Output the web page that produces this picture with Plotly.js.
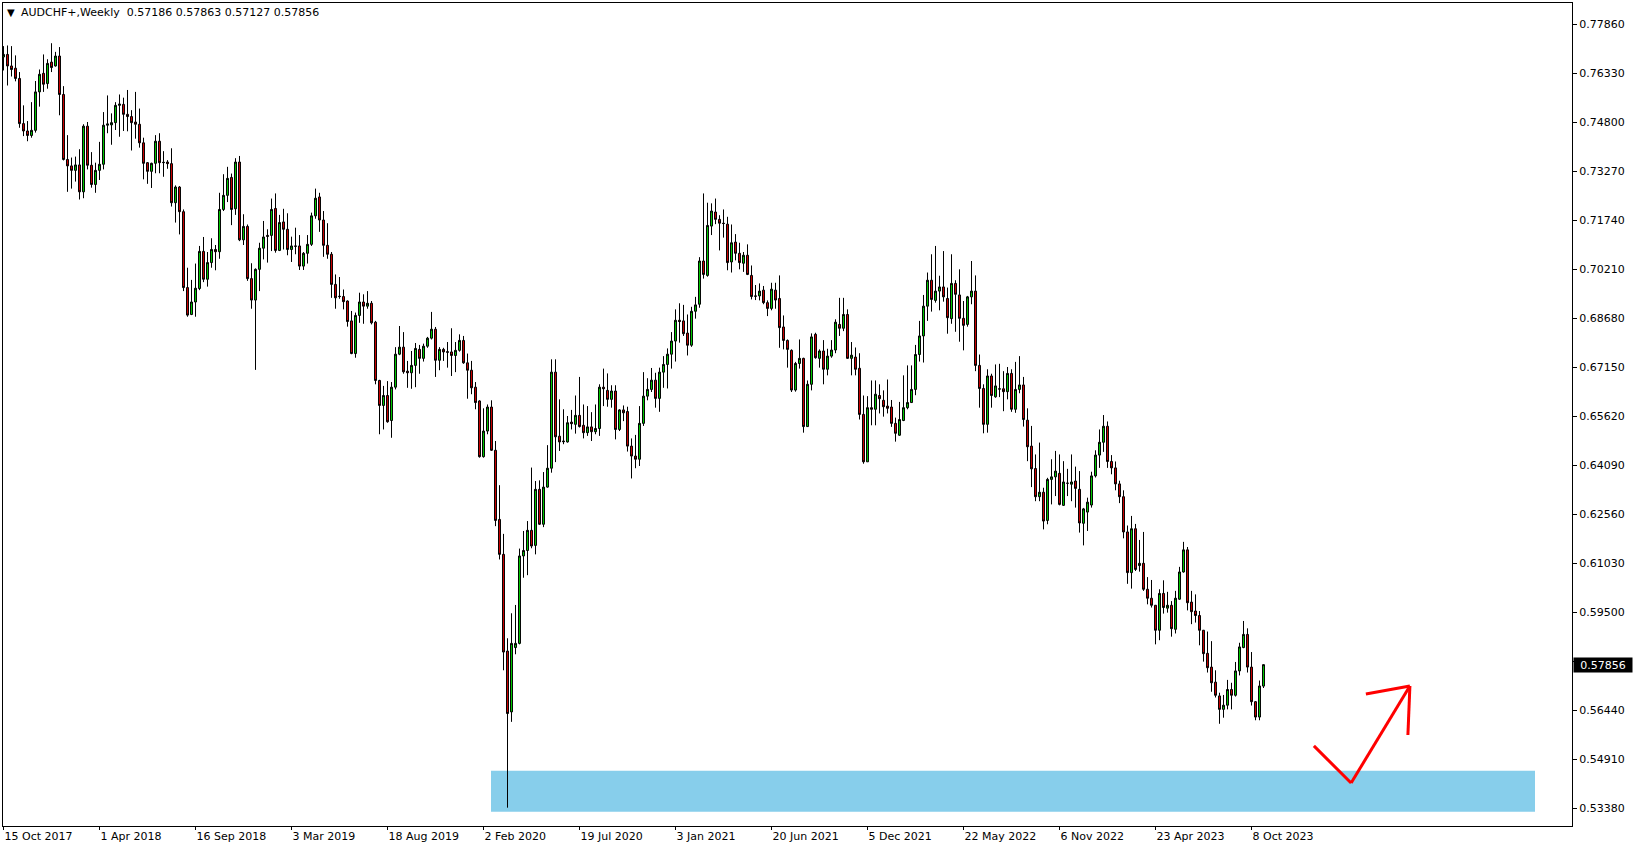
<!DOCTYPE html>
<html><head><meta charset="utf-8">
<script src="https://cdn.plot.ly/plotly-3.0.1.min.js"></script>
<style>html,body{margin:0;padding:0;background:#fff;overflow:hidden}#chart{width:1635px;height:850px}</style>
</head><body><div id="chart"></div>
<script>
const symbolTitle = 'AUDCHF+,Weekly';
const firstBar = '2017-10-15';

const opens = [
.7683,.7691,.7655,.7648,.7616,.7475,.7452,.7438,.7454,.7574,
.7632,.7600,.7667,.7655,.7686,.7566,.7363,.7343,.7329,.7346,
.7262,.7467,.7345,.7285,.7329,.7348,.7470,.7471,.7478,.7532,
.7535,.7504,.7497,.7480,.7473,.7415,.7353,.7326,.7351,.7420,
.7353,.7355,.7350,.7228,.7277,.7200,.6963,.6879,.6918,.6960,
.7076,.6989,.7041,.7082,.7075,.7207,.7251,.7307,.7209,.7355,
.7112,.7154,.6991,.6924,.7020,.7086,.7126,.7126,.7210,.7079,
.7168,.7145,.7082,.7093,.7093,.7030,.7070,.7098,.7187,.7246,
.7174,.7095,.7067,.6973,.6936,.6935,.6921,.6859,.6757,.6876,
.6918,.6905,.6914,.6855,.6673,.6595,.6626,.6548,.6652,.6755,
.6777,.6702,.6697,.6720,.6770,.6742,.6780,.6805,.6833,.6736,
.6770,.6763,.6762,.6751,.6767,.6798,.6728,.6705,.6652,.6609,
.6435,.6515,.6590,.6455,.6239,.6130,.5828,.5638,.5839,.5852,
.6125,.6142,.6205,.6158,.6333,.6224,.6340,.6399,.6699,.6499,
.6484,.6481,.6543,.6536,.6564,.6533,.6510,.6528,.6513,.6523,
.6652,.6642,.6614,.6640,.6520,.6581,.6576,.6468,.6437,.6427,
.6539,.6624,.6645,.6674,.6617,.6699,.6723,.6755,.6796,.6861,
.6859,.6821,.6783,.6889,.6911,.7046,.7001,.7155,.7199,.7176,
.7164,.7161,.7043,.7105,.7070,.7039,.7064,.7001,.6937,.6937,
.6955,.6916,.6898,.6955,.6929,.6840,.6798,.6767,.6643,.6726,
.6742,.6529,.6661,.6817,.6742,.6765,.6708,.6749,.6768,.6848,
.6836,.6879,.6742,.6746,.6711,.6567,.6419,.6588,.6583,.6626,
.6611,.6593,.6590,.6539,.6502,.6548,.6588,.6604,.6645,.6754,
.6812,.6905,.6986,.6923,.6952,.6965,.6929,.6866,.6976,.6940,
.6867,.6848,.6934,.6952,.6720,.6648,.6536,.6687,.6622,.6647,
.6647,.6638,.6695,.6583,.6645,.6659,.6549,.6468,.6398,.6310,
.6324,.6236,.6364,.6372,.6383,.6283,.6352,.6349,.6359,.6333,
.6227,.6262,.6284,.6375,.6440,.6480,.6530,.6420,.6400,.6350,
.6310,.6200,.6073,.6210,.6095,.6102,.6021,.5993,.5971,.5893,
.6008,.5962,.5971,.5896,.5990,.6075,.6144,.5981,.5953,.5939,
.5893,.5821,.5778,.5731,.5688,.5646,.5659,.5708,.5690,.5766,
.5839,.5880,.5778,.5670,.5622,.57186];

const highs = [
.7717,.7719,.7717,.7688,.7636,.7532,.7483,.7542,.7608,.7644,
.7691,.7676,.7726,.7699,.7714,.7592,.7439,.7369,.7372,.7395,
.7473,.7480,.7386,.7353,.7418,.7511,.7563,.7507,.7542,.7566,
.7556,.7580,.7517,.7574,.7522,.7431,.7355,.7353,.7439,.7445,
.7389,.7361,.7398,.7282,.7280,.7207,.7025,.6987,.7038,.7093,
.7121,.7074,.7117,.7096,.7259,.7317,.7340,.7319,.7367,.7374,
.7192,.7160,.7039,.7023,.7103,.7171,.7145,.7241,.7257,.7190,
.7209,.7195,.7122,.7150,.7127,.7074,.7127,.7197,.7272,.7259,
.7202,.7164,.7074,.7004,.6996,.6957,.6923,.6890,.6885,.6947,
.6942,.6952,.6921,.6859,.6675,.6656,.6671,.6668,.6777,.6843,
.6824,.6734,.6765,.6790,.6784,.6788,.6809,.6887,.6840,.6777,
.6775,.6793,.6836,.6793,.6817,.6812,.6757,.6734,.6668,.6611,
.6586,.6598,.6611,.6484,.6346,.6194,.5868,.5946,.5972,.6148,
.6203,.6234,.6401,.6359,.6361,.6387,.6471,.6739,.6739,.6614,
.6583,.6562,.6581,.6626,.6684,.6598,.6593,.6574,.6598,.6661,
.6710,.6695,.6658,.6658,.6583,.6595,.6591,.6492,.6503,.6593,
.6699,.6680,.6712,.6697,.6713,.6749,.6773,.6824,.6895,.6914,
.6909,.6879,.6903,.6934,.7058,.7257,.7228,.7226,.7241,.7189,
.7207,.7184,.7160,.7130,.7103,.7074,.7098,.7032,.6971,.6976,
.6968,.6923,.6978,.6978,.7001,.6876,.6801,.6770,.6731,.6801,
.6744,.6673,.6820,.6822,.6770,.6799,.6772,.6799,.6864,.6931,
.6931,.6895,.6793,.6776,.6758,.6626,.6624,.6673,.6673,.6661,
.6642,.6676,.6612,.6557,.6606,.6689,.6720,.6720,.6784,.6859,
.6940,.7010,.7067,.7093,.7000,.7077,.6963,.7067,.6986,.7020,
.6921,.6937,.7046,.7001,.6754,.6661,.6708,.6694,.6723,.6725,
.6702,.6715,.6708,.6731,.6749,.6684,.6586,.6531,.6442,.6479,
.6338,.6369,.6427,.6453,.6442,.6421,.6397,.6442,.6404,.6390,
.6275,.6307,.6388,.6455,.6520,.6565,.6545,.6440,.6420,.6360,
.6330,.6220,.6250,.6225,.6175,.6200,.6059,.6050,.5972,.6021,
.6049,.6013,.5984,.6016,.6091,.6169,.6153,.6016,.6005,.5953,
.5894,.5889,.5859,.5768,.5698,.5691,.5738,.5729,.5794,.5854,
.5922,.5899,.5825,.5672,.5736,.57863];

const lows = [
.7641,.7594,.7622,.7607,.7462,.7436,.7420,.7431,.7447,.7528,
.7574,.7584,.7636,.7653,.7501,.7360,.7262,.7272,.7294,.7238,
.7242,.7332,.7275,.7259,.7299,.7332,.7445,.7409,.7455,.7434,
.7452,.7451,.7391,.7428,.7400,.7301,.7287,.7274,.7320,.7320,
.7309,.7334,.7216,.7166,.7129,.6952,.6872,.6877,.6872,.6955,
.6980,.6966,.7025,.7017,.7053,.7202,.7230,.7158,.7190,.7108,
.7096,.6984,.6897,.6706,.6952,.7051,.7041,.7077,.7072,.7077,
.7082,.7064,.7043,.7067,.7018,.7018,.7038,.7093,.7178,.7137,
.7059,.7053,.6931,.6897,.6928,.6895,.6841,.6755,.6744,.6853,
.6850,.6897,.6848,.6661,.6505,.6520,.6541,.6494,.6645,.6752,
.6694,.6650,.6647,.6652,.6694,.6732,.6775,.6801,.6684,.6705,
.6734,.6713,.6687,.6699,.6763,.6725,.6616,.6630,.6583,.6432,
.6432,.6505,.6453,.6218,.6114,.5768,.5339,.5607,.5818,.5849,
.6057,.6065,.6149,.6130,.6222,.6215,.6338,.6385,.6418,.6453,
.6474,.6479,.6520,.6507,.6526,.6492,.6500,.6484,.6505,.6500,
.6593,.6591,.6588,.6489,.6515,.6546,.6451,.6367,.6399,.6406,
.6531,.6611,.6637,.6588,.6575,.6650,.6648,.6710,.6732,.6791,
.6812,.6751,.6778,.6866,.6900,.6991,.6997,.7127,.7161,.7079,
.7119,.7017,.7010,.7048,.7020,.7012,.7002,.6926,.6924,.6923,
.6911,.6874,.6892,.6897,.6775,.6770,.6713,.6637,.6638,.6710,
.6510,.6528,.6642,.6741,.6713,.6661,.6689,.6744,.6758,.6812,
.6827,.6741,.6689,.6689,.6551,.6413,.6419,.6533,.6533,.6570,
.6560,.6570,.6528,.6482,.6500,.6546,.6583,.6604,.6627,.6732,
.6729,.6859,.6888,.6916,.6892,.6919,.6819,.6850,.6825,.6794,
.6767,.6841,.6911,.6702,.6588,.6508,.6510,.6588,.6619,.6621,
.6577,.6614,.6575,.6572,.6633,.6529,.6421,.6340,.6296,.6296,
.6208,.6224,.6286,.6312,.6283,.6281,.6312,.6296,.6276,.6198,
.6158,.6203,.6276,.6370,.6400,.6450,.6400,.6380,.6330,.6290,
.6180,.6038,.6023,.6078,.6076,.6016,.5974,.5964,.5849,.5862,
.5945,.5948,.5873,.5883,.5988,.6073,.5955,.5912,.5917,.5846,
.5795,.5761,.5701,.5683,.5601,.5620,.5646,.5646,.5686,.5752,
.5837,.5761,.5658,.5612,.5612,.57127];

const closes = [
.7691,.7655,.7644,.7616,.7475,.7452,.7438,.7454,.7574,.7629,
.7598,.7663,.7650,.7686,.7566,.7363,.7343,.7329,.7346,.7262,
.7467,.7345,.7285,.7329,.7348,.7470,.7474,.7478,.7532,.7536,
.7504,.7497,.7478,.7473,.7415,.7351,.7326,.7351,.7420,.7353,
.7354,.7350,.7228,.7277,.7200,.6963,.6877,.6918,.6961,.7076,
.6989,.7041,.7082,.7075,.7207,.7251,.7304,.7207,.7355,.7112,
.7154,.6991,.6924,.7020,.7086,.7121,.7123,.7207,.7079,.7166,
.7145,.7082,.7093,.7092,.7030,.7070,.7098,.7187,.7242,.7174,
.7095,.7067,.6973,.6931,.6935,.6919,.6857,.6757,.6876,.6918,
.6905,.6914,.6853,.6673,.6595,.6626,.6544,.6652,.6755,.6777,
.6700,.6697,.6720,.6773,.6742,.6780,.6805,.6833,.6736,.6770,
.6762,.6761,.6751,.6767,.6798,.6728,.6705,.6650,.6604,.6435,
.6515,.6590,.6455,.6236,.6130,.5825,.5633,.5852,.5852,.6125,
.6142,.6205,.6156,.6333,.6224,.6340,.6399,.6699,.6497,.6481,
.6482,.6541,.6538,.6564,.6529,.6510,.6528,.6513,.6523,.6652,
.6647,.6614,.6640,.6520,.6581,.6572,.6468,.6437,.6427,.6539,
.6624,.6645,.6674,.6617,.6699,.6723,.6755,.6796,.6861,.6857,
.6819,.6783,.6889,.6909,.7046,.7004,.7157,.7202,.7176,.7164,
.7163,.7041,.7103,.7070,.7041,.7064,.7004,.6935,.6936,.6952,
.6916,.6898,.6958,.6924,.6838,.6798,.6770,.6643,.6726,.6742,
.6529,.6661,.6809,.6744,.6765,.6708,.6749,.6768,.6855,.6836,
.6879,.6742,.6752,.6708,.6567,.6419,.6588,.6583,.6630,.6616,
.6591,.6586,.6539,.6508,.6551,.6588,.6604,.6645,.6754,.6812,
.6905,.6986,.6926,.6952,.6965,.6934,.6869,.6976,.6942,.6867,
.6845,.6934,.6952,.6720,.6648,.6536,.6687,.6626,.6656,.6646,
.6638,.6695,.6583,.6645,.6659,.6551,.6466,.6397,.6310,.6324,
.6234,.6364,.6372,.6390,.6286,.6356,.6352,.6356,.6336,.6228,
.6272,.6293,.6375,.6440,.6480,.6530,.6420,.6400,.6350,.6310,
.6200,.6073,.6210,.6083,.6102,.6021,.5993,.5971,.5893,.6008,
.5964,.5971,.5898,.5993,.6075,.6144,.5979,.5951,.5939,.5893,
.5820,.5776,.5729,.5690,.5646,.5659,.5708,.5690,.5766,.5841,
.5880,.5778,.5670,.5622,.5719,.57856];

const xTickDates = ['2017-10-15','2018-04-01','2018-09-16','2019-03-03','2019-08-18','2020-02-02','2020-07-19',
  '2021-01-03','2021-06-20','2021-12-05','2022-05-22','2022-11-06','2023-04-23','2023-10-08'];
const xTickLabels = ['15 Oct 2017','1 Apr 2018','16 Sep 2018','3 Mar 2019','18 Aug 2019','2 Feb 2020','19 Jul 2020',
  '3 Jan 2021','20 Jun 2021','5 Dec 2021','22 May 2022','6 Nov 2022','23 Apr 2023','8 Oct 2023'];
const yTickValues = [0.53380,0.54910,0.56440,0.57970,0.59500,0.61030,0.62560,0.64090,0.65620,
  0.67150,0.68680,0.70210,0.71740,0.73270,0.74800,0.76330,0.77860];

// zone drawn on the chart (price levels)
const zoneTop = 0.5454, zoneBottom = 0.5326;

const DAY = 864e5;
const t0 = Date.parse(firstBar);
function wk(w) {
  return new Date(t0 + w * 7 * DAY).toISOString().replace('T', ' ').replace('Z', '');
}
const dates = closes.map((_, i) => wk(i));
const last = closes.length - 1;
const lastPrice = closes[last];

const FONT = 'DejaVu Sans, Verdana, sans-serif';

const trace = {
  type: 'candlestick',
  x: dates, open: opens, high: highs, low: lows, close: closes,
  increasing: {line: {color: '#000000', width: 1}, fillcolor: '#00d000'},
  decreasing: {line: {color: '#000000', width: 1}, fillcolor: '#d00000'},
  whiskerwidth: 0,
  hoverinfo: 'skip',
  showlegend: false
};

function seg(w0, p0, w1, p1) {
  return {type: 'line', xref: 'x', yref: 'y', x0: wk(w0), y0: p0, x1: wk(w1), y1: p1,
    line: {color: '#ff0000', width: 3}, layer: 'above'};
}

// the label hidden under the current-price box is left blank
const yTickText = yTickValues.map(v => Math.abs(v - lastPrice) < 0.004 ? '' : v.toFixed(5));

const layout = {
  width: 1635, height: 850,
  margin: {l: 3, r: 63, t: 3, b: 24, pad: 0},
  paper_bgcolor: '#ffffff', plot_bgcolor: '#ffffff',
  showlegend: false,
  boxgap: 0.3,
  font: {family: FONT, size: 11, color: '#000'},
  xaxis: {
    type: 'date', range: [wk(-0.125), wk(392.125)],
    rangeslider: {visible: false},
    showgrid: false, zeroline: false,
    showline: true, mirror: true, linecolor: '#000', linewidth: 1,
    ticks: 'outside', ticklen: 3, tickcolor: '#000', tickwidth: 1,
    tickmode: 'array', tickvals: xTickDates, ticktext: xTickLabels,
    ticklabelposition: 'outside right',
    tickfont: {family: FONT, size: 11, color: '#000'},
    fixedrange: true
  },
  yaxis: {
    side: 'right', range: [0.52818, 0.78516],
    showgrid: false, zeroline: false,
    showline: true, mirror: true, linecolor: '#000', linewidth: 1,
    ticks: 'outside', ticklen: 4, tickcolor: '#000', tickwidth: 1,
    tickmode: 'array', tickvals: yTickValues, ticktext: yTickText,
    tickfont: {family: FONT, size: 11, color: '#000'},
    fixedrange: true
  },
  shapes: [
    {type: 'rect', xref: 'x', yref: 'y', x0: wk(121.875), x1: wk(382.875), y0: zoneBottom, y1: zoneTop,
      fillcolor: '#87ceeb', line: {width: 0}, layer: 'below'},
    seg(327.6, 0.5532, 336.9, 0.5416),
    seg(336.9, 0.5416, 351.6, 0.5719),
    seg(351.6, 0.5719, 340.6, 0.5694),
    seg(351.6, 0.5719, 351.1, 0.5566)
  ],
  annotations: [
    {xref: 'paper', yref: 'paper', x: 0, y: 1, xanchor: 'left', yanchor: 'middle', xshift: 2, yshift: -9.5,
      text: '▼', showarrow: false, font: {family: FONT, size: 10, color: '#000'}},
    {xref: 'paper', yref: 'paper', x: 0, y: 1, xanchor: 'left', yanchor: 'middle', xshift: 16, yshift: -9.5,
      text: symbolTitle + '\u00a0\u00a0' + [opens[last], highs[last], lows[last], closes[last]].map(v => v.toFixed(5)).join(' '),
      showarrow: false, font: {family: FONT, size: 11, color: '#000'}},
    {xref: 'paper', yref: 'y', x: 1, y: lastPrice, xanchor: 'left', yanchor: 'middle', xshift: 1,
      text: lastPrice.toFixed(5), showarrow: false, bgcolor: '#000000', borderpad: 1,
      width: 56, height: 12, align: 'center',
      font: {family: FONT, size: 11, color: '#ffffff'}}
  ]
};

Plotly.newPlot('chart', [trace], layout, {staticPlot: true, displayModeBar: false});
</script>
</body></html>
